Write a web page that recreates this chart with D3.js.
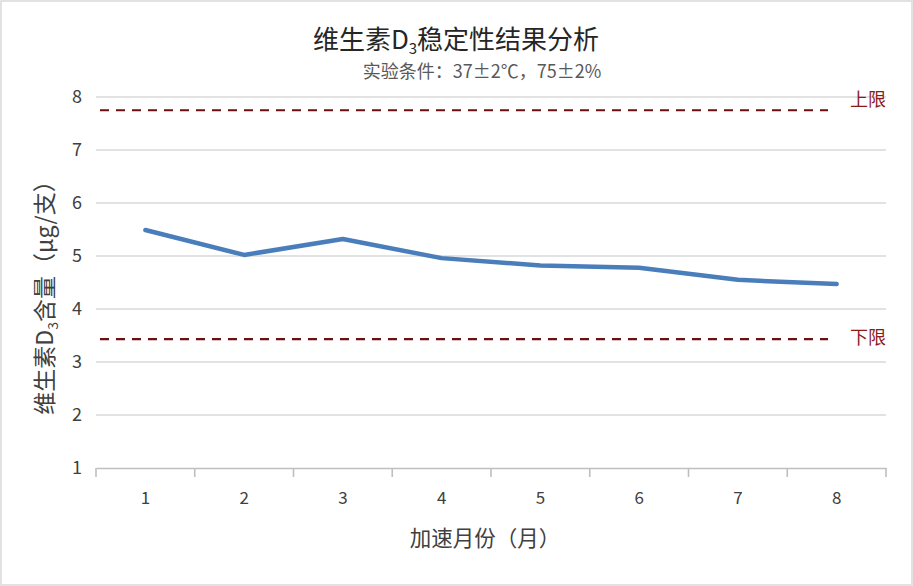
<!DOCTYPE html>
<html><head><meta charset="utf-8">
<script src="https://cdn.jsdelivr.net/npm/d3@7"></script>
<style>body{margin:0;background:#fff}svg{display:block}text{font-family:"Noto Sans CJK SC","Noto Sans",sans-serif}</style>
</head><body><svg id="c" width="913" height="586"></svg>
<script>
const months = ["1","2","3","4","5","6","7","8"];
const content = [5.49, 5.02, 5.32, 4.96, 4.82, 4.78, 4.55, 4.47];
const yTicks = [1,2,3,4,5,6,7,8];
const upperLimit = 7.75;
const lowerLimit = 3.43;
const limitLabels = ["上限","下限"];

const svg = d3.select("#c");
const W=913,H=586;
svg.append("rect").attr("x",1).attr("y",1).attr("width",W-2).attr("height",H-2).attr("fill","#fff").attr("stroke","#d9d9d9").attr("stroke-width",1.5);

const L=96,R=886,T=97,B=468;
const x = d3.scaleBand().domain(months).range([L,R]);
const y = d3.scaleLinear().domain([1,8]).range([B,T]);

svg.append("g").selectAll("line").data(yTicks.filter(d=>d>1)).join("line")
  .attr("x1",L).attr("x2",R).attr("y1",d=>y(d)).attr("y2",d=>y(d))
  .attr("stroke","#d9d9d9").attr("stroke-width",1.6);

const ya = svg.append("g").attr("transform",`translate(${L},0)`)
  .call(d3.axisLeft(y).tickValues(yTicks).tickSize(0).tickPadding(14).tickFormat(d3.format("d")));
ya.select(".domain").remove();
ya.selectAll("text").attr("font-size",18).attr("fill","#404040").attr("font-family","'Noto Sans CJK SC',sans-serif");

const xa = svg.append("g").attr("transform",`translate(0,${B})`)
  .call(d3.axisBottom(x).tickSize(0).tickPadding(24));
xa.select(".domain").attr("stroke","#bfbfbf").attr("stroke-width",1.6);
xa.selectAll("text").attr("font-size",17).attr("fill","#404040").attr("font-family","'Noto Sans CJK SC',sans-serif");
const bounds = months.map(m=>x(m)).concat([R]);
svg.append("g").selectAll("line").data(bounds).join("line")
  .attr("x1",d=>d).attr("x2",d=>d).attr("y1",B).attr("y2",B+9)
  .attr("stroke","#bfbfbf").attr("stroke-width",1.6);

const limits = [upperLimit, lowerLimit];
svg.append("g").selectAll("line").data(limits).join("line")
  .attr("x1",100).attr("x2",828).attr("y1",d=>y(d)).attr("y2",d=>y(d))
  .attr("stroke","#6e0f0f").attr("stroke-width",2.2).attr("stroke-dasharray","9,7");
svg.append("g").selectAll("text").data(limits).join("text")
  .attr("x",850).attr("y",(d,i)=>y(d)+(i===0?-9:0)).attr("dominant-baseline","middle")
  .attr("font-size",18).attr("fill","#8b1a1a").text((d,i)=>limitLabels[i]);

const line = d3.line().x((d,i)=>x(months[i])+x.bandwidth()/2).y(d=>y(d));
svg.append("path").datum(content).attr("d",line).attr("fill","none")
  .attr("stroke","#4a7ebb").attr("stroke-width",4.5).attr("stroke-linecap","round").attr("stroke-linejoin","round");

const title = svg.append("text").attr("x",456).attr("y",49).attr("text-anchor","middle")
  .attr("font-size",26).attr("fill","#262626");
title.append("tspan").text("维生素D");
title.append("tspan").attr("font-size",15).attr("dy",5).text("3");
title.append("tspan").attr("dy",-5).text("稳定性结果分析");

svg.append("text").attr("x",482).attr("y",78).attr("text-anchor","middle")
  .attr("font-size",18).attr("fill","#595959").text("实验条件：37±2℃，75±2%");

svg.append("text").attr("x",485).attr("y",546).attr("text-anchor","middle")
  .attr("font-size",21.5).attr("fill","#404040").text("加速月份（月）");

const yt = svg.append("text").attr("transform","translate(53,292) rotate(-90)").attr("text-anchor","middle")
  .attr("font-size",23).attr("fill","#404040");
yt.append("tspan").text("维生素D");
yt.append("tspan").attr("font-size",14).attr("dy",5).text("3");
yt.append("tspan").attr("dy",-5).text("含量（μg/支）");
</script></body></html>
